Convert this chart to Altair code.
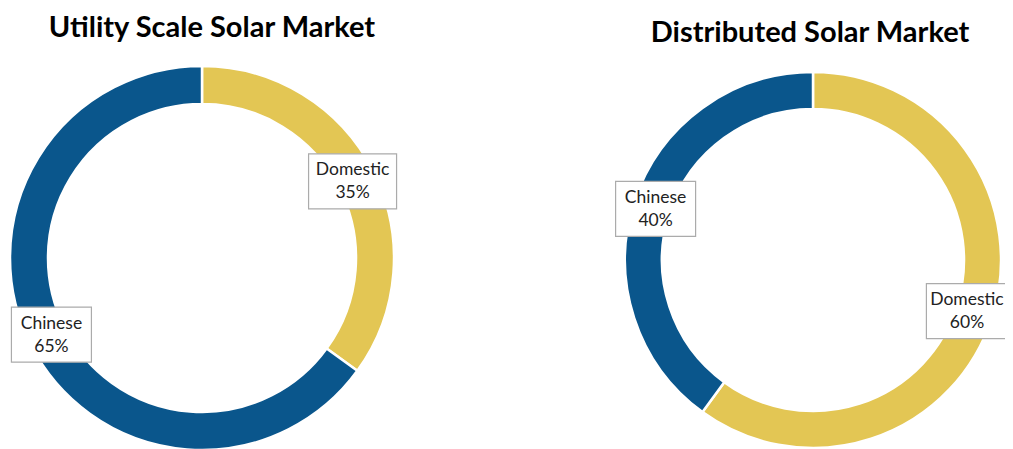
import math
import altair as alt
import pandas as pd

# ---- data ----
titles = ["Utility Scale Solar Market", "Distributed Solar Market"]
categories = ["Domestic", "Chinese"]
utility_values = [35, 65]
distributed_values = [60, 40]

colors = ["#E3C654", "#0A568C"]
FONT = "Lato"

# layout (chart coordinates; page minus 8px margin)
W, H = 997, 441
panels = [
    dict(title=titles[0], values=utility_values, cx=194, cy=250, r_out=192, r_in=154, tx=204, ty=29),
    dict(title=titles[1], values=distributed_values, cx=805, cy=252, r_out=188, r_in=151, tx=802, ty=34),
]
box_w = {"Domestic": 88, "Chinese": 80}
box_h = 55

layers = []
for p in panels:
    rows = []
    cum = 0.0
    total = sum(p["values"])
    rlab = (p["r_out"] + p["r_in"]) / 2 - 4
    for i, (c, v) in enumerate(zip(categories, p["values"])):
        mid = (cum + v / 2) / total * 2 * math.pi
        cum += v
        lx = p["cx"] + rlab * math.sin(mid)
        ly = p["cy"] - rlab * math.cos(mid)
        rows.append(dict(
            category=c, value=v, order=i,
            label=f"{c}\n{v}%",
            lx=lx, ly=ly, tx=min(lx, W - 38),
            bx0=lx - box_w[c] / 2, bx1=lx + box_w[c] / 2,
            by0=ly - box_h / 2, by1=ly + box_h / 2,
        ))
    df = pd.DataFrame(rows)
    base = alt.Chart(df)

    arc = base.mark_arc(radius=p["r_out"], radius2=p["r_in"], stroke="white", strokeWidth=2.5).encode(
        theta=alt.Theta("value:Q", stack=True),
        color=alt.Color("category:N", scale=alt.Scale(domain=categories, range=colors), legend=None),
        order=alt.Order("order:Q"),
        x=alt.value(p["cx"]),
        y=alt.value(p["cy"]),
    )
    box = base.mark_rect(fill="white", stroke="#ABABAB", strokeWidth=1.2).encode(
        x=alt.X("bx0:Q", scale=None), x2="bx1:Q",
        y=alt.Y("by0:Q", scale=None), y2="by1:Q",
    )
    txt = base.mark_text(font=FONT, fontSize=17.5, color="#222222", lineBreak="\n",
                         lineHeight=23, baseline="middle", align="center", dy=-11).encode(
        x=alt.X("tx:Q", scale=None),
        y=alt.Y("ly:Q", scale=None),
        text="label:N",
    )
    ttl = alt.Chart(pd.DataFrame({"t": [p["title"]]})).mark_text(
        font=FONT, fontSize=29, fontWeight="bold", color="black", align="center", baseline="alphabetic"
    ).encode(
        text="t:N", x=alt.value(p["tx"]), y=alt.value(p["ty"])
    )
    layers += [arc, box, txt, ttl]

chart = alt.layer(*layers).resolve_scale(theta="independent").properties(
    width=W, height=H, padding=0, background="white",
    autosize=alt.AutoSizeParams(type="none")
).configure_view(strokeWidth=0, stroke=None)

chart.save("out.html", embed_options={"renderer": "svg", "actions": False})
